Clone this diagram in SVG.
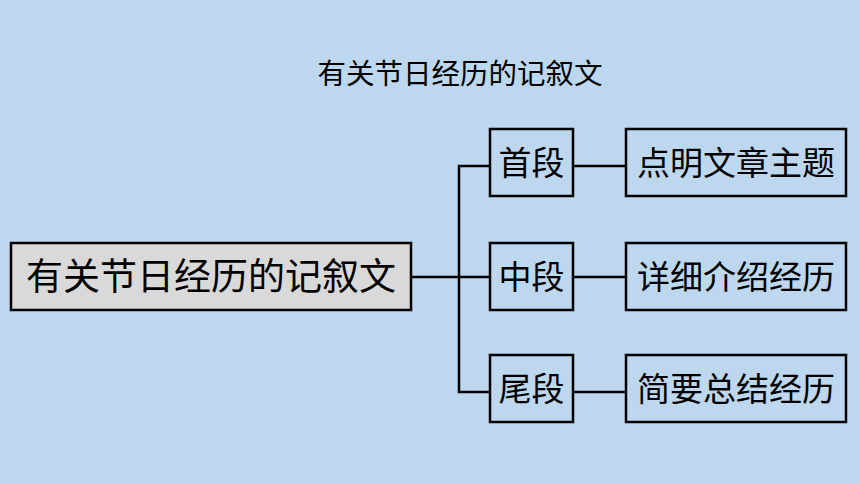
<svg xmlns="http://www.w3.org/2000/svg" width="860" height="484" viewBox="0 0 860 484">
  <style>
    .t { font-family: "Noto Sans CJK SC", "Noto Sans CJK JP", sans-serif; fill: #000; text-anchor: middle; }
    .box { fill: none; stroke: #000; stroke-width: 2.5; }
    .main { fill: #d9d9d9; stroke: #000; stroke-width: 2.5; }
    .conn { fill: none; stroke: #000; stroke-width: 2.5; }
  </style>
  <rect x="0" y="0" width="860" height="484" fill="#bdd7ee"/>
  <text class="t" x="460" y="84" font-size="28.5">有关节日经历的记叙文</text>
  <g id="connectors">
    <line class="conn" x1="411" y1="277" x2="490" y2="277"/>
    <polyline class="conn" points="490,166 459,166 459,392 490,392"/>
    <line class="conn" x1="573" y1="166" x2="626" y2="166"/>
    <line class="conn" x1="573" y1="277" x2="626" y2="277"/>
    <line class="conn" x1="573" y1="392" x2="626" y2="392"/>
  </g>
  <g id="root">
    <rect class="main" x="11" y="243" width="400" height="67"/>
    <text class="t" x="211" y="290" font-size="37">有关节日经历的记叙文</text>
  </g>
  <g id="n1">
    <rect class="box" x="490" y="129" width="83" height="67"/>
    <text class="t" x="531.5" y="175" font-size="33">首段</text>
  </g>
  <g id="n1d">
    <rect class="box" x="626" y="129" width="220" height="67"/>
    <text class="t" x="736" y="175" font-size="33">点明文章主题</text>
  </g>
  <g id="n2">
    <rect class="box" x="490" y="243" width="83" height="67"/>
    <text class="t" x="531.5" y="289" font-size="33">中段</text>
  </g>
  <g id="n2d">
    <rect class="box" x="626" y="243" width="220" height="67"/>
    <text class="t" x="736" y="289" font-size="33">详细介绍经历</text>
  </g>
  <g id="n3">
    <rect class="box" x="490" y="355" width="83" height="67"/>
    <text class="t" x="531.5" y="401" font-size="33">尾段</text>
  </g>
  <g id="n3d">
    <rect class="box" x="626" y="355" width="220" height="67"/>
    <text class="t" x="736" y="401" font-size="33">简要总结经历</text>
  </g>
</svg>
